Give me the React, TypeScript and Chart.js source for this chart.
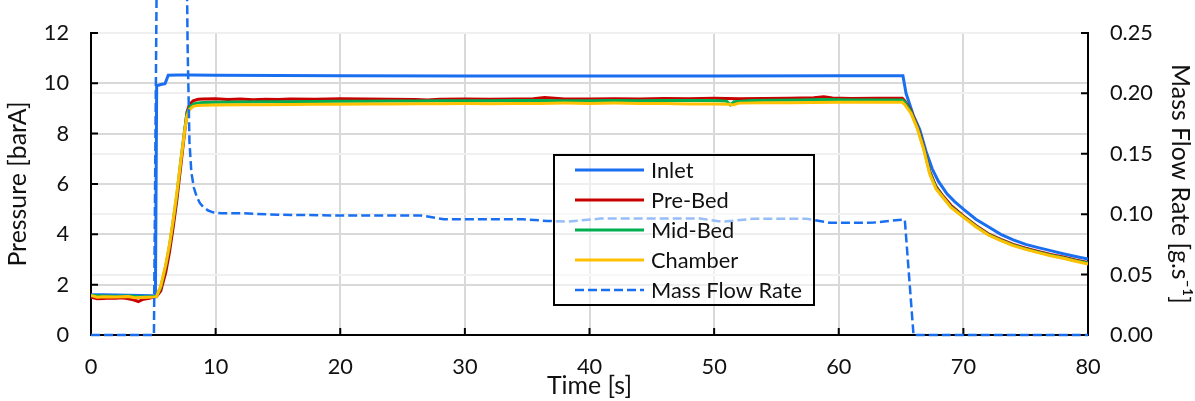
import { useEffect, useRef } from "react";
import { Chart, registerables } from "chart.js";

Chart.register(...registerables);

const FONT = "Lato";

// ---------- data ----------
const timeTicks = [0, 10, 20, 30, 40, 50, 60, 70, 80];
const pressureTicks = [0, 2, 4, 6, 8, 10, 12];
const flowTicks = [0, 0.05, 0.1, 0.15, 0.2, 0.25];

const inletTime = [0, 1, 2, 3, 4, 5, 5.17, 5.27, 5.6, 5.94, 6.2, 7, 8, 10, 15, 20, 30, 40, 50, 60, 65.15, 65.4, 66, 66.5, 67, 67.5, 68, 68.7, 69.3, 70, 71, 72, 73, 74, 75, 76, 77, 78, 79, 80];
const inletValue = [1.6, 1.6, 1.59, 1.58, 1.57, 1.56, 1.55, 9.9, 9.95, 9.98, 10.32, 10.33, 10.33, 10.32, 10.31, 10.3, 10.29, 10.29, 10.29, 10.3, 10.3, 9.6, 8.7, 8.16, 7.3, 6.6, 6.1, 5.6, 5.3, 5.0, 4.6, 4.3, 4.0, 3.78, 3.6, 3.47, 3.35, 3.23, 3.12, 3.02];

const preBedTime = [0, 0.5, 1, 1.5, 2, 2.5, 3, 3.4, 3.8, 4.2, 4.6, 5, 5.25, 5.6, 6.0, 6.3, 6.6, 6.9, 7.2, 7.5, 7.7, 7.9, 8.2, 8.6, 9, 10, 11, 12, 13, 14, 15, 16, 18, 20, 22, 24, 26, 27, 28, 30, 32, 34, 35.5, 36.4, 37.2, 38, 40, 42, 44, 46, 48, 50, 52, 54, 56, 58, 58.8, 59.5, 61, 63, 65.1, 65.3, 65.8, 66.3, 66.8, 67.3, 67.8, 68.4, 69, 70, 71, 72, 73, 74, 75, 76, 77, 78, 79, 80];
const preBedValue = [1.5, 1.44, 1.45, 1.47, 1.46, 1.48, 1.44, 1.4, 1.33, 1.42, 1.45, 1.5, 1.52, 1.75, 2.5, 3.3, 4.3, 5.4, 6.7, 8.0, 8.85, 9.15, 9.3, 9.36, 9.37, 9.38, 9.35, 9.37, 9.34, 9.36, 9.35, 9.37, 9.36, 9.38, 9.37, 9.36, 9.35, 9.33, 9.36, 9.37, 9.36, 9.37, 9.38, 9.43, 9.4, 9.37, 9.37, 9.38, 9.37, 9.39, 9.38, 9.4, 9.38, 9.39, 9.4, 9.42, 9.46, 9.41, 9.39, 9.4, 9.4, 9.3, 8.9, 8.3, 7.5, 6.5, 5.9, 5.5, 5.15, 4.73, 4.35, 4.02, 3.8, 3.6, 3.45, 3.32, 3.2, 3.1, 2.98, 2.88];

const midBedTime = [0, 1, 2, 3, 4, 5, 5.25, 5.6, 6.0, 6.3, 6.6, 6.9, 7.2, 7.5, 7.7, 7.9, 8.2, 8.6, 9, 10, 12, 14, 16, 18, 20, 22, 24, 26, 28, 30, 32, 34, 36, 38, 40, 42, 44, 46, 48, 50, 51.0, 51.3, 51.6, 53, 55, 57, 59, 61, 63, 65.1, 65.3, 65.8, 66.3, 66.8, 67.3, 67.8, 68.4, 69, 70, 71, 72, 73, 74, 75, 76, 77, 78, 79, 80];
const midBedValue = [1.57, 1.55, 1.54, 1.55, 1.52, 1.53, 1.54, 1.9, 2.75, 3.55, 4.55, 5.6, 6.9, 8.1, 8.8, 9.05, 9.17, 9.22, 9.23, 9.24, 9.25, 9.26, 9.26, 9.27, 9.28, 9.28, 9.29, 9.29, 9.3, 9.3, 9.3, 9.31, 9.31, 9.3, 9.3, 9.31, 9.3, 9.31, 9.31, 9.31, 9.29, 9.14, 9.27, 9.31, 9.32, 9.33, 9.35, 9.33, 9.33, 9.33, 9.25, 8.85, 8.25, 7.45, 6.45, 5.85, 5.45, 5.1, 4.7, 4.32, 3.99, 3.77, 3.57, 3.42, 3.29, 3.17, 3.07, 2.95, 2.86];

const chamberTime = [0, 0.5, 1, 2, 3, 3.5, 4, 4.5, 5, 5.25, 5.6, 6.0, 6.3, 6.6, 6.9, 7.2, 7.5, 7.7, 7.9, 8.2, 8.6, 9, 10, 12, 14, 16, 18, 20, 22, 24, 26, 28, 30, 32, 34, 36, 38, 40, 42, 44, 46, 48, 50, 51.2, 51.5, 52, 54, 56, 58, 60, 62, 65.1, 65.3, 65.8, 66.3, 66.8, 67.3, 67.8, 68.4, 69, 70, 71, 72, 73, 74, 75, 76, 77, 78, 79, 80];
const chamberValue = [1.57, 1.5, 1.52, 1.51, 1.53, 1.48, 1.49, 1.5, 1.51, 1.52, 1.95, 2.8, 3.6, 4.6, 5.7, 6.9, 8.05, 8.7, 8.95, 9.08, 9.12, 9.13, 9.14, 9.15, 9.15, 9.16, 9.17, 9.17, 9.18, 9.18, 9.19, 9.19, 9.2, 9.19, 9.2, 9.2, 9.21, 9.2, 9.21, 9.2, 9.2, 9.18, 9.18, 9.17, 9.14, 9.21, 9.22, 9.22, 9.23, 9.24, 9.24, 9.24, 9.15, 8.8, 8.2, 7.4, 6.39, 5.8, 5.44, 5.07, 4.68, 4.3, 3.97, 3.75, 3.55, 3.4, 3.27, 3.15, 3.05, 2.93, 2.82];

const flowTime = [0, 5.05, 5.35, 7.6, 7.75, 7.9, 8.05, 8.25, 8.5, 8.75, 9.0, 9.4, 9.8, 10.5, 12, 15, 20, 26.5, 28.3, 30, 34.7, 36.6, 38.2, 40.9, 45, 48.9, 50.7, 53.1, 57.4, 59.3, 62.8, 65.1, 65.3, 66.0, 80];
const flowValue = [0, 0, 0.4, 0.4, 0.24, 0.16, 0.135, 0.122, 0.114, 0.109, 0.106, 0.103, 0.1015, 0.1007, 0.1008, 0.0995, 0.0989, 0.0989, 0.0957, 0.0958, 0.0957, 0.0944, 0.0938, 0.0963, 0.0963, 0.0963, 0.0937, 0.0962, 0.0962, 0.0928, 0.093, 0.0955, 0.0955, 0, 0];

const seriesNames = ["Inlet", "Pre-Bed", "Mid-Bed", "Chamber", "Mass Flow Rate"];
const seriesColors = ["#1a6ff0", "#c80000", "#00b050", "#ffc000", "#1a6ff0"];

const pts = (t: number[], v: number[]) => t.map((x, i) => ({ x, y: v[i] }));

function fitSize(text: string, target: number): number {
  const c = document.createElement("canvas").getContext("2d")!;
  c.font = `100px ${FONT}`;
  const w = c.measureText(text).width;
  return (100 * target) / w;
}

export default function App() {
  const ref = useRef<HTMLCanvasElement | null>(null);

  useEffect(() => {
    if (!ref.current) return;
    const tickSize = fitSize("0.25", 43);
    const titleSize = fitSize("Time [s]", 85);
    const legendSize = fitSize("Mass Flow Rate", 151);

    const innerTicks = {
      id: "innerTicks",
      beforeDatasetsDraw(chart: any) {
        const { ctx, chartArea: a, scales } = chart;
        ctx.save();
        ctx.strokeStyle = "#000";
        ctx.lineWidth = 2;
        ctx.beginPath();
        scales.x.ticks.forEach((t: any) => {
          const p = scales.x.getPixelForValue(t.value);
          ctx.moveTo(p, a.bottom);
          ctx.lineTo(p, a.bottom - 7);
        });
        scales.y.ticks.forEach((t: any) => {
          const p = scales.y.getPixelForValue(t.value);
          ctx.moveTo(a.left, p);
          ctx.lineTo(a.left + 7, p);
        });
        scales.y1.ticks.forEach((t: any) => {
          const p = scales.y1.getPixelForValue(t.value);
          ctx.moveTo(a.right, p);
          ctx.lineTo(a.right - 7, p);
        });
        ctx.stroke();
        ctx.restore();
      },
    };

    const boxLegend = {
      id: "boxLegend",
      afterDraw(chart: any) {
        const { ctx } = chart;
        const x0 = 554, y0 = 155, w = 260, h = 150;
        ctx.save();
        ctx.fillStyle = "rgba(255,255,255,0.55)";
        ctx.fillRect(x0, y0, w, h);
        ctx.strokeStyle = "#000";
        ctx.lineWidth = 2;
        ctx.strokeRect(x0, y0, w, h);
        ctx.font = `${legendSize}px ${FONT}`;
        ctx.textBaseline = "middle";
        ctx.textAlign = "left";
        chart.data.datasets.forEach((ds: any, i: number) => {
          const y = 170 + i * 30;
          ctx.beginPath();
          ctx.strokeStyle = ds.borderColor;
          ctx.lineWidth = ds.borderWidth;
          ctx.setLineDash(ds.borderDash || []);
          ctx.moveTo(575, y);
          ctx.lineTo(644, y);
          ctx.stroke();
          ctx.setLineDash([]);
          ctx.fillStyle = "#111";
          ctx.fillText(ds.label, 651, y + 1);
        });
        ctx.restore();
      },
    };

    const mk = (i: number, t: number[], v: number[], width: number, order: number) => ({
      label: seriesNames[i],
      data: pts(t, v),
      borderColor: seriesColors[i],
      backgroundColor: seriesColors[i],
      borderWidth: width,
      pointRadius: 0,
      tension: 0,
      yAxisID: "y",
      order,
    });

    const chart = new Chart(ref.current, {
      type: "line",
      data: {
        datasets: [
          mk(0, inletTime, inletValue, 3, 5),
          mk(1, preBedTime, preBedValue, 3, 4),
          mk(2, midBedTime, midBedValue, 3, 3),
          mk(3, chamberTime, chamberValue, 3, 2),
          {
            ...mk(4, flowTime, flowValue, 2.5, 1),
            yAxisID: "y1",
            borderDash: [9, 4],
            clip: false as any,
          },
        ],
      },
      options: {
        animation: false,
        responsive: true,
        maintainAspectRatio: false,
        layout: { padding: { top: 19, left: 0, right: 0, bottom: 0 } },
        plugins: { legend: { display: false }, tooltip: { enabled: false } },
        scales: {
          x: {
            type: "linear",
            min: 0,
            max: 80,
            afterBuildTicks: (s: any) => { s.ticks = timeTicks.map((value) => ({ value })); },
            afterFit: (s: any) => { s.height = 66; },
            grid: { color: "#d9d9d9", lineWidth: 2, drawTicks: false },
            border: { display: true, color: "#000", width: 2 },
            ticks: { color: "#111", font: { family: FONT, size: tickSize, lineHeight: 1 }, padding: 21, maxRotation: 0 },
            title: { display: true, text: "Time [s]", color: "#111", font: { family: FONT, size: titleSize, lineHeight: 1 }, padding: { top: 0, bottom: 15 - titleSize / 2 } },
          },
          y: {
            type: "linear",
            position: "left",
            min: 0,
            max: 12,
            afterBuildTicks: (s: any) => { s.ticks = pressureTicks.map((value) => ({ value })); },
            afterFit: (s: any) => { s.width = 91; },
            grid: { color: "#d9d9d9", lineWidth: 2, drawTicks: false },
            border: { display: true, color: "#000", width: 2 },
            ticks: { color: "#111", font: { family: FONT, size: tickSize, lineHeight: 1 }, padding: 22 },
            title: { display: true, text: "Pressure [barA]", color: "#111", font: { family: FONT, size: titleSize, lineHeight: 1 }, padding: { top: 18 - titleSize / 2, bottom: 0 } },
          },
          y1: {
            type: "linear",
            position: "right",
            min: 0,
            max: 0.25,
            afterBuildTicks: (s: any) => { s.ticks = flowTicks.map((value) => ({ value })); },
            afterFit: (s: any) => { s.width = 107; },
            grid: { color: "#f0f0f0", lineWidth: 2, drawTicks: false },
            border: { display: true, color: "#000", width: 2 },
            ticks: { color: "#111", font: { family: FONT, size: tickSize, lineHeight: 1 }, padding: 22, callback: (v: any) => Number(v).toFixed(2) },
            title: { display: true, text: "Mass Flow Rate [g.s⁻¹]", color: "#111", font: { family: FONT, size: titleSize, lineHeight: 1 }, padding: { top: 15 - titleSize / 2, bottom: 0 } },
          },
        },
      },
      plugins: [innerTicks, boxLegend],
    });
    return () => chart.destroy();
  }, []);

  return (
    <div style={{ position: "absolute", left: 0, top: 0, width: 1195, height: 401, background: "#fff" }}>
      <canvas ref={ref} />
    </div>
  );
}
